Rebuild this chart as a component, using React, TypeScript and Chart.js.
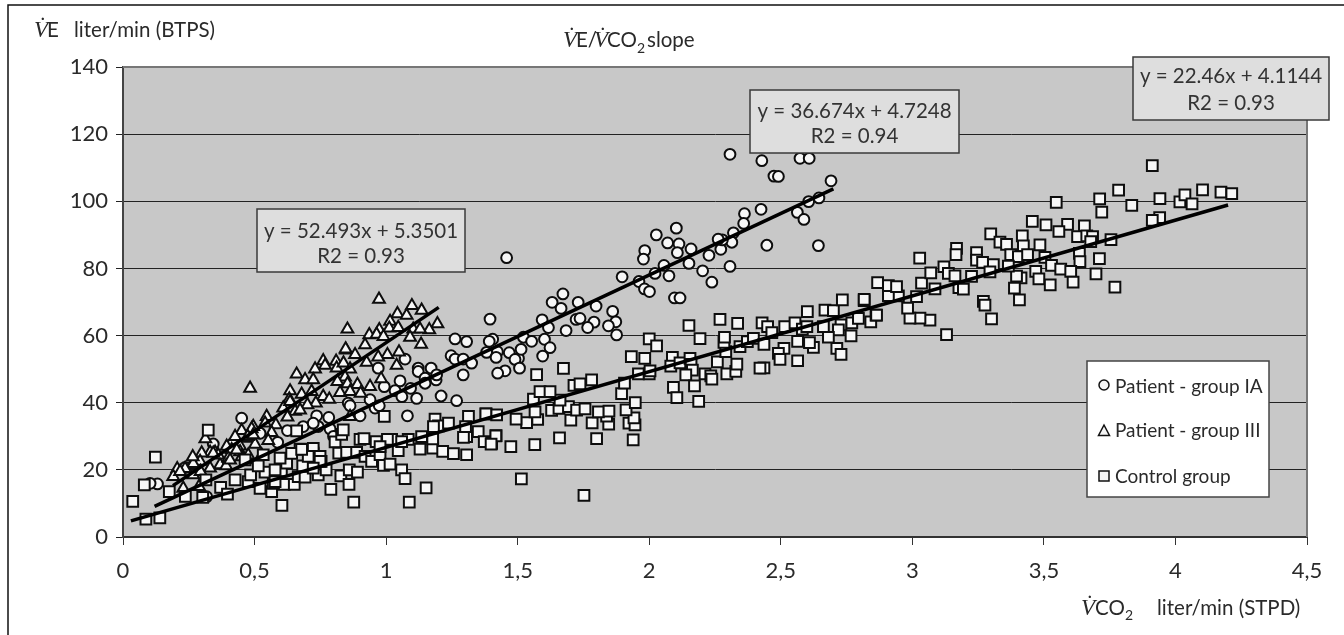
import React, { useEffect, useRef } from "react";
import { Chart, registerables } from "chart.js";

Chart.register(...registerables);

const xTickLabels = ["0", "0,5", "1", "1,5", "2", "2,5", "3", "3,5", "4", "4,5"];
const legendLabels = ["Patient - group IA", "Patient - group III", "Control group"];

const groupIA: [number, number][] = [
  [1.458,83.2],[2.307,114],[2.428,112.1],[2.573,112.8],[2.608,112.8],[2.474,107.5],[2.491,107.4],[2.691,106.1],[2.645,101],[2.606,99.9],
  [2.563,96.7],[2.588,94.6],[2.643,86.8],[2.447,86.9],[2.425,97.6],[2.362,96.3],[2.359,93.4],[2.32,90.6],[2.314,87.8],[2.272,85.7],
  [2.278,88.5],[2.262,88.7],[2.227,83.9],[2.307,80.6],[2.238,75.9],[2.203,79.3],[2.151,81.5],[2.159,85.8],[2.113,87.3],[2.107,84.7],
  [2.07,87.6],[2.103,92],[2.027,90],[1.983,85.3],[1.978,82.8],[2.056,80.9],[2.022,78.5],[2.075,77.8],[1.961,76.1],[1.982,73.9],
  [2.001,73.1],[1.897,77.5],[2.096,71.2],[2.117,71.2],[1.861,67.2],[1.798,68.8],[1.73,69.9],[1.672,72.4],[1.631,69.9],[1.665,68.1],
  [1.593,64.7],[1.395,64.9],[1.722,64.8],[1.737,65.1],[1.79,64],[1.873,64.1],[1.845,62.9],[1.766,62.4],[1.684,61.5],[1.617,62.4],
  [1.405,58.9],[1.392,58.3],[1.382,55],[1.423,55.2],[1.418,53.5],[1.468,54.9],[1.503,53.2],[1.49,52.9],[1.513,55.9],[1.522,59.5],
  [1.553,58.3],[1.602,58.9],[1.623,56.4],[1.595,53.9],[1.507,50.3],[1.452,49.5],[1.424,48.8],[1.876,60.2],
  [0.131,15.8],[0.103,16],[0.318,12],[0.236,20.7],[0.343,27.7],[0.451,35.4],[0.588,28.2],[0.625,31.7],[0.736,36.1],[0.782,35.6],
  [0.742,32.9],[0.787,32.2],[0.856,39.9],[0.863,39.1],[0.939,40.9],[0.958,38.4],[0.974,39.1],[0.901,36.1],[1.081,36.1],[1.053,46.5],
  [0.993,44.8],[1.034,43.6],[1.06,41.8],[1.093,44.3],[1.116,41.3],[1.209,42],[1.268,40.6],[1.072,53],[0.97,50.3],[1.122,50.3],
  [1.122,49.3],[1.171,50.3],[1.148,47.3],[1.148,45.8],[1.19,46.8],[1.192,48.3],[1.247,54],[1.262,53],[1.293,53],[1.325,51.8],
  [1.293,48.3],[1.262,59],[1.306,58.2],[0.685,32.9],[0.723,26.2],[0.521,30.9],[0.419,28],[0.723,33.9],[0.8,30],
];

const groupIII: [number, number][] = [
  [0.973,70.8],[1.098,68.9],[1.135,67.5],[1.043,66.5],[1.078,66],[1.195,63.5],[1.015,64.2],[0.853,61.9],[1.164,61.7],[1.103,61.9],
  [1.129,61.9],[0.974,61.7],[1.012,62.2],[1.046,62.4],[0.936,60.2],[0.964,60.4],[0.99,59.7],[1.091,59.5],[1.133,57.4],[0.92,57.2],
  [0.848,55.7],[1.049,55.1],[0.882,54.3],[1.005,54.3],[0.97,53.6],[0.926,52],[1.04,51.1],[0.761,52.5],[0.768,51.1],[0.81,52.3],
  [0.812,50.3],[0.838,51.8],[0.863,50],[0.73,50],[0.66,48.5],[0.692,46.8],[0.723,46.8],[0.844,47.6],[0.815,46.3],[0.853,45.6],
  [0.891,45.4],[0.981,47.1],[0.939,44.8],[0.825,43],[0.863,43.3],[0.903,42.8],[0.635,43.5],[0.679,42.5],[0.717,43.3],[0.483,44.3],
  [0.761,41.8],[0.784,41],[0.632,41.1],[0.733,39.9],[0.701,39.4],[0.609,38.4],[0.654,37.4],[0.625,35.7],[0.546,35.9],[0.581,33.4],
  [0.54,33.9],[0.495,32.9],[0.451,31.7],[0.489,32.2],[0.565,31.1],[0.426,29.9],[0.477,29.4],[0.552,28.7],[0.502,27.6],[0.445,27.1],
  [0.394,27],[0.413,26],[0.313,29.2],[0.35,25.2],[0.331,25.2],[0.299,25],[0.369,21.5],[0.4,23.5],[0.331,20.5],[0.293,22.5],
  [0.261,21.5],[0.206,20.3],[0.191,18],[0.267,18.5],[0.229,14.5],[0.289,15],[0.392,21.2],[0.477,23],[0.445,25.4],
  [0.635,40.3],[0.474,29.9],[0.267,21.9],[0.236,20.4],[0.295,19.5],[0.407,22.9],[0.362,24.4],[0.451,23.9],[0.476,24.4],[0.527,24.4],
  [0.432,25.9],[0.495,30.4],[0.343,24.9],[0.265,23.9],[0.217,19.5],[0.863,35.9],[0.673,37.8],[0.846,56],
];

const controlGroup: [number, number][] = [
  [0.037,10.6],[0.081,15.5],[0.087,5.3],[0.14,5.7],[0.123,23.8],[0.176,13.5],[0.237,12.1],[0.303,11.8],[0.315,17],[0.324,31.8],
  [0.371,14.8],[0.397,12.8],[0.426,17],[0.476,16.5],[0.464,23],[0.485,18.5],[0.521,14.5],[0.54,19.3],[0.565,13.5],[0.604,9.4],
  [0.602,19.7],[0.514,21.2],[0.533,24.5],[0.571,16],[0.613,15.7],[0.651,15.7],[0.666,18],[0.692,17.8],[0.622,22],[0.597,23.5],
  [0.683,21.2],[0.673,26.2],[0.723,26.4],[0.704,24],[0.749,24],[0.742,18.5],[0.772,20],[0.753,22.5],[0.79,14.2],[0.828,18.2],
  [0.859,15.7],[0.877,10.4],[0.86,20],[0.891,19.3],[0.66,31.6],[0.806,28.3],[0.831,30.6],[0.837,31.9],[0.901,29.1],[0.916,29.3],
  [0.962,28.4],[0.82,25],[0.85,25.2],[0.888,25.2],[0.92,24],[0.945,22.5],[0.977,24.5],[0.99,21.3],[1.015,21.7],[0.993,35.9],
  [1.021,29.1],[1.005,29.1],[1.046,25.7],[1.084,29.1],[1.059,20],[1.072,17.4],[1.088,10.4],[1.152,14.6],[1.129,26.2],[1.135,29.9],
  [1.177,26.5],[1.177,29.2],[1.215,25.5],[1.256,24.8],[1.306,24.5],[1.186,35.1],[1.199,33.1],[1.237,33.9],[1.18,32.9],[1.313,35.9],
  [1.306,29.9],[1.294,29.7],[1.302,32.9],[1.35,31.4],[1.373,28.4],[1.401,27.9],[1.418,30.2],[1.38,36.7],[1.42,36.4],
  [0.578,16.5],[0.641,24.9],[0.578,20],[0.749,22.5],[0.723,20.5],[0.977,26.9],[1.059,28.4],[0.679,26.1],
  [1.514,17.3],[1.752,12.4],[1.474,26.9],[1.565,27.5],[1.659,29.5],[1.8,29.3],[1.939,28.9],[1.417,30.1],[1.399,27.7],[1.534,34.1],
  [1.494,35.1],[1.576,35],[1.702,34.8],[1.783,34],[1.846,33.6],[1.838,36],[1.923,33.9],[1.946,33.4],[1.942,35.5],[1.379,36.7],
  [1.566,37.3],[1.629,37.7],[1.657,38.3],[1.693,38.8],[1.724,37.8],[1.756,38.2],[1.807,37.3],[1.847,37.5],[1.912,37.9],[1.947,40],
  [1.56,41.1],[1.661,40.8],[1.585,43.3],[1.623,43.3],[1.714,45.2],[1.737,45.6],[1.781,46.8],[1.895,42.7],[1.906,45.8],[1.572,48.4],
  [1.674,50.2],[1.959,48.6],[2,48.6],[2.003,49.5],[1.932,53.7],[1.983,53.2],[2,59],[2.028,56.9],[2.088,53.5],[2.082,50.9],
  [2.117,51.9],[2.155,53.2],[2.159,51.4],[2.164,49.7],[2.139,48.3],[2.092,44.6],[2.105,41.5],[2.172,45],[2.188,40.4],[2.212,48.6],
  [2.234,48],[2.238,47],[2.259,52.2],[2.295,48.6],[2.329,49.3],[2.333,51.5],[2.291,55.2],[2.284,58],[2.286,59.5],[2.345,56.7],
  [2.373,58.2],[2.396,59.2],[2.436,57.4],[2.436,50.4],[2.421,50.3],[2.151,63],[2.193,59.1],[2.269,64.8],[2.336,63.6],[2.429,63.8],
  [2.45,62.7],[2.466,60.9],[2.515,62.7],[2.554,63.8],[2.582,61.9],[2.601,67.1],[2.599,62.7],[2.668,67.6],[2.7,67.4],[2.662,62.7],
  [2.729,63.2],[2.719,61.7],[2.77,63.8],[2.795,65.1],[2.842,64.1],[2.862,66.1],[2.817,70.4],[2.734,70.6],[2.767,59.9],[2.681,59.5],
  [2.713,56.2],[2.729,54.4],[2.624,56.5],[2.609,57.9],[2.564,58.3],[2.512,56.2],[2.491,54.7],[2.497,52.9],[2.564,52.5],
  [3.912,110.6],[3.784,103.3],[3.712,100.7],[3.72,96.8],[3.834,98.8],[3.941,100.8],[4.017,99.8],[4.036,101.9],[4.063,99.2],[4.103,103.4],
  [4.173,102.7],[4.214,102.3],[3.547,99.7],[3.94,95.1],[3.912,94.3],[3.755,88.6],[3.456,94],[3.508,93],[3.59,93.1],[3.557,91],
  [3.654,92.7],[3.628,89.5],[3.663,89.7],[3.685,89.5],[3.678,88],[3.298,90.3],[3.333,87.8],[3.358,87.2],[3.418,89.7],[3.422,86.7],
  [3.485,87],[3.168,86],[3.166,84.1],[3.244,84.7],[3.244,82.5],[3.267,81.8],[3.308,81.1],[3.374,84.1],[3.403,83.5],[3.438,84.1],
  [3.504,83.3],[3.635,84.5],[3.637,82],[3.711,82.9],[3.698,78.4],[3.77,74.4],[3.529,80.9],[3.564,79.8],[3.602,79.1],[3.469,79.1],
  [3.481,76.9],[3.524,75.1],[3.611,75.9],[3.413,77.2],[3.396,77.7],[3.365,80.7],[3.388,74.1],[3.407,70.6],[3.27,70.2],[3.276,69.1],
  [3.301,65],[3.13,60.3],[3.067,64.6],[3.029,65.2],[2.991,65.2],[2.982,68.2],[2.864,66.1],[2.817,70.8],[2.947,71.8],[2.909,71.9],
  [2.909,74.9],[2.94,74.6],[2.868,75.8],[3.016,71.6],[3.086,73.9],[3.035,75.6],[3.07,78.7],[3.028,83.1],[3.12,80.5],[3.137,78.5],
  [3.162,77.8],[3.225,77.6],[3.177,74.3],[3.194,73.8],[3.295,79],
];

const lineIA: [number, number][] = [[0.12, 9.1], [2.7, 103.7]];
const lineIII: [number, number][] = [[0.19, 15.3], [1.2, 68.4]];
const lineControl: [number, number][] = [[0.03, 4.8], [4.2, 98.9]];

const eqIA = ["y = 36.674x + 4.7248", "R2 = 0.94"];
const eqIII = ["y = 52.493x + 5.3501", "R2 = 0.93"];
const eqControl = ["y = 22.46x + 4.1144", "R2 = 0.93"];

const FONT = "Lato, 'Open Sans', sans-serif";
const INK = "#2a2a2a";
const pts = (a: [number, number][]) => a.map(([x, y]) => ({ x, y }));

function markDataset(label: string, data: [number, number][], pointStyle: string, radius: number, order: number) {
  return {
    label, data: pts(data), order, pointStyle, pointRadius: radius, pointHoverRadius: radius,
    pointBackgroundColor: "#f7f7f7", pointBorderColor: "#0d0d0d", pointBorderWidth: 2, showLine: false,
  };
}
function lineDataset(label: string, data: [number, number][]) {
  return {
    label, data: pts(data), order: 0, showLine: true, pointRadius: 0,
    borderColor: "#000", borderWidth: 3.5, fill: false,
  };
}

function box(ctx: CanvasRenderingContext2D, x: number, y: number, w: number, h: number, fill: string, stroke: string) {
  ctx.fillStyle = fill;
  ctx.fillRect(x, y, w, h);
  ctx.strokeStyle = stroke;
  ctx.lineWidth = 1.5;
  ctx.strokeRect(x, y, w, h);
}
function eqBox(ctx: CanvasRenderingContext2D, x: number, y: number, w: number, h: number, lines: string[], base1: number, base2: number) {
  box(ctx, x, y, w, h, "#dedede", "#3a3a3a");
  ctx.fillStyle = "#333";
  ctx.font = `20.5px ${FONT}`;
  ctx.textAlign = "center";
  ctx.textBaseline = "alphabetic";
  ctx.fillText(lines[0], x + w / 2, base1);
  ctx.fillText(lines[1], x + w / 2, base2);
  ctx.textAlign = "left";
}
function serifV(ctx: CanvasRenderingContext2D, x: number, y: number) {
  ctx.font = "italic 23px 'Liberation Serif', serif";
  ctx.fillText("V\u0307", x, y);
}

const overlay = {
  id: "overlay",
  beforeDraw(chart: any) {
    const { ctx, chartArea: a } = chart;
    ctx.save();
    ctx.fillStyle = "#fff";
    ctx.fillRect(0, 0, chart.width, chart.height);
    ctx.strokeStyle = "#111";
    ctx.lineWidth = 1.5;
    ctx.beginPath();
    ctx.moveTo(8, 635);
    ctx.lineTo(8, 5);
    ctx.lineTo(1344, 5);
    ctx.stroke();
    ctx.fillStyle = "#c8c8c8";
    ctx.fillRect(a.left, a.top, a.right - a.left, a.bottom - a.top);
    ctx.restore();
  },
  afterDraw(chart: any) {
    const { ctx, chartArea: a } = chart;
    ctx.save();
    ctx.textBaseline = "alphabetic";
    ctx.textAlign = "left";

    ctx.strokeStyle = "#777";
    ctx.lineWidth = 2;
    ctx.beginPath();
    ctx.moveTo(a.left, a.top);
    ctx.lineTo(a.right, a.top);
    ctx.lineTo(a.right, a.bottom);
    ctx.stroke();

    ctx.fillStyle = INK;
    serifV(ctx, 34, 37);
    ctx.font = `20.5px ${FONT}`;
    ctx.fillText("E", 47, 37);
    ctx.fillText("liter/min (BTPS)", 74, 37);

    serifV(ctx, 563, 47);
    ctx.font = `20.5px ${FONT}`;
    ctx.fillText("E/", 576, 47);
    serifV(ctx, 594, 47);
    ctx.font = `20.5px ${FONT}`;
    ctx.fillText("CO", 607, 47);
    ctx.font = `14px ${FONT}`;
    ctx.fillText("2", 637, 53);
    ctx.font = `20.5px ${FONT}`;
    ctx.fillText("slope", 647, 47);

    serifV(ctx, 1081, 615);
    ctx.font = `20.5px ${FONT}`;
    ctx.fillText("CO", 1095, 615);
    ctx.font = `14px ${FONT}`;
    ctx.fillText("2", 1125, 620);
    ctx.font = `20.5px ${FONT}`;
    ctx.fillText("liter/min (STPD)", 1157, 615);

    eqBox(ctx, 257, 209, 208, 63, eqIII, 238, 263);
    eqBox(ctx, 750, 90, 209, 63, eqIA, 118, 143);
    eqBox(ctx, 1133, 57, 196, 63, eqControl, 83, 110);

    box(ctx, 1087, 361, 182, 136, "#ffffff", "#444");
    const ys = [385, 431, 476];
    const bases = [393, 437, 483];
    const styles = ["circle", "triangle", "rect"];
    legendLabels.forEach((t, i) => {
      ctx.strokeStyle = "#111";
      ctx.fillStyle = "#f4f4f4";
      ctx.lineWidth = 1.5;
      ctx.beginPath();
      const x = 1104;
      const y = ys[i];
      if (styles[i] === "circle") ctx.arc(x, y, 5, 0, Math.PI * 2);
      else if (styles[i] === "rect") ctx.rect(x - 5, y - 5, 10, 10);
      else {
        ctx.moveTo(x, y - 6);
        ctx.lineTo(x + 5.5, y + 4.5);
        ctx.lineTo(x - 5.5, y + 4.5);
        ctx.closePath();
      }
      ctx.fill();
      ctx.stroke();
      ctx.fillStyle = INK;
      ctx.font = `19px ${FONT}`;
      ctx.fillText(t, 1115, bases[i]);
    });
    ctx.restore();
  },
};

export default function App() {
  const ref = useRef<HTMLCanvasElement>(null);
  useEffect(() => {
    document.body.style.margin = "0";
    const chart = new Chart(ref.current as HTMLCanvasElement, {
      type: "scatter",
      data: {
        datasets: [
          lineDataset("Fit IA", lineIA),
          lineDataset("Fit III", lineIII),
          lineDataset("Fit control", lineControl),
          markDataset(legendLabels[2], controlGroup, "rect", 7.6, 1),
          markDataset(legendLabels[1], groupIII, "triangle", 6.8, 2),
          markDataset(legendLabels[0], groupIA, "circle", 5.4, 3),
        ] as any,
      },
      options: {
        responsive: false,
        animation: false,
        layout: { padding: { top: 67, right: 37, left: 0, bottom: 0 } },
        plugins: { legend: { display: false }, title: { display: false }, tooltip: { enabled: false } },
        scales: {
          x: {
            type: "linear", min: 0, max: 4.5,
            afterFit: (s: any) => { s.height = 98; },
            border: { color: "#333", width: 2 },
            grid: { drawOnChartArea: false, drawTicks: true, tickLength: 8, color: "#333" },
            ticks: {
              stepSize: 0.5, padding: 13, color: INK, maxRotation: 0, font: { family: FONT, size: 22 },
              callback: (_v: any, i: number) => xTickLabels[i],
            },
          },
          y: {
            type: "linear", min: 0, max: 140,
            afterFit: (s: any) => { s.width = 123; },
            border: { color: "#444", width: 2 },
            grid: { color: "#222", lineWidth: 1, drawTicks: true, tickLength: 7 },
            ticks: { stepSize: 20, padding: 8, color: INK, font: { family: FONT, size: 22 } },
          },
        },
      },
      plugins: [overlay],
    } as any);
    return () => chart.destroy();
  }, []);
  return <canvas ref={ref} width={1344} height={635} style={{ display: "block" }} />;
}
